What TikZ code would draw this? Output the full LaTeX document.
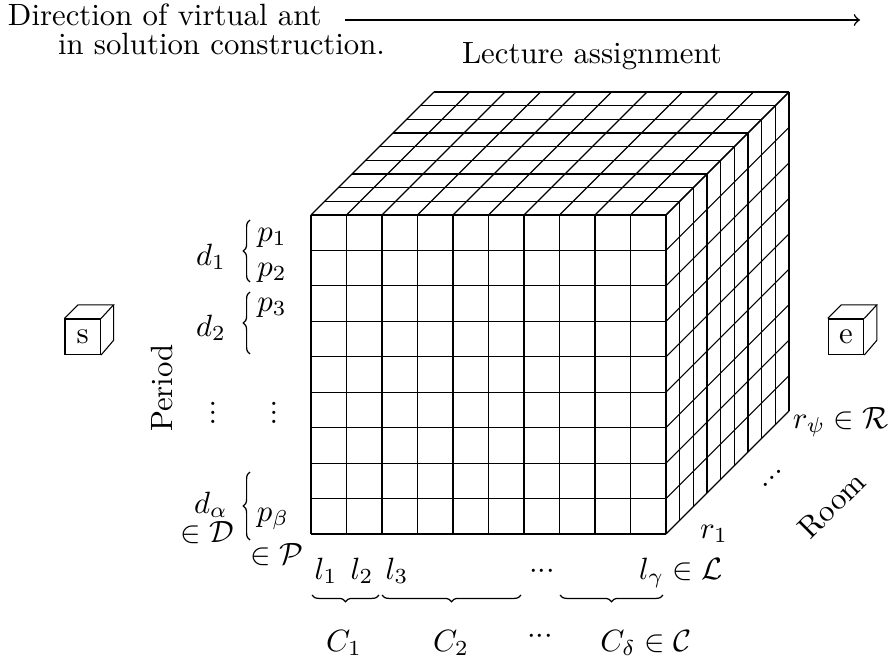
\documentclass[tikz,border=0pt]{standalone}
\usetikzlibrary{decorations.pathreplacing}
\newcommand\myvdots{\vbox{\baselineskip2.9pt\lineskiplimit0pt\kern1pt\hbox{.}\hbox{.}\hbox{.}}}
\newcommand\myidots{\hbox{.\kern-0.6pt\raise2.1pt\hbox{.}\kern-0.6pt\raise4.2pt\hbox{.}}}
\begin{document}
\begin{tikzpicture}[x=0.325pt,y=-0.325pt,
  grid/.style={line width=0.35pt, black},
  lbl/.style={inner sep=0pt, outer sep=0pt},
  brc/.style={decorate, decoration={brace, amplitude=2.2pt}, line width=0.4pt},
  cubebox/.style={draw, line width=0.35pt, minimum width=11.54pt, minimum height=11.54pt, inner sep=0pt}]
\useasboundingbox (0,0) rectangle (893,661);

% header
\node[lbl, anchor=base west] (t1) at (8,26) {Direction of virtual ant};
\node[lbl, anchor=base west] (t2) at (58,55) {in solution construction.};
\node[lbl, anchor=base west] (t3) at (462,63) {Lecture assignment};
\coordinate (aS) at (345,20);
\coordinate (aE) at (860,20);
\draw[->, line width=0.5pt] (aS) -- (aE);

% front face
\foreach \i in {0,...,10} \draw[grid] ({311+35.5*\i},215) -- ({311+35.5*\i},534);
\foreach \j in {0,...,9} \draw[grid] (311,{215+35.444*\j}) -- (666,{215+35.444*\j});
% top face
\foreach \k in {1,...,9} \draw[grid] ({311+13.667*\k},{215-13.667*\k}) -- ({666+13.667*\k},{215-13.667*\k});
\foreach \i in {0,...,10} \draw[grid] ({311+35.5*\i},215) -- ({434+35.5*\i},92);
% right face
\foreach \k in {1,...,9} \draw[grid] ({666+13.667*\k},{215-13.667*\k}) -- ({666+13.667*\k},{534-13.667*\k});
\foreach \j in {0,...,9} \draw[grid] (666,{215+35.444*\j}) -- (789,{92+35.444*\j});

% start / end cubes
\node[cubebox] (s) at (82.75,336.75) {s};
\draw[grid] (s.north west) -- ++(13.667,-13.667) -- ++(35.5,0) coordinate (sbk) -- (s.north east);
\draw[grid] (sbk) -- ++(0,35.5) -- (s.south east);
\node[cubebox] (e) at (846,336.75) {e};
\draw[grid] (e.north west) -- ++(13.667,-13.667) -- ++(35.5,0) coordinate (ebk) -- (e.north east);
\draw[grid] (ebk) -- ++(0,35.5) -- (e.south east);

% period labels
\node[lbl, rotate=90] (period) at (162,388) {Period};
\node[lbl, anchor=base] (d1) at (211,265) {$d_1$};
\node[lbl, anchor=base] (p1) at (272,241) {$p_1$};
\node[lbl, anchor=base] (p2) at (272,276) {$p_2$};
\node[lbl, anchor=base] (p3) at (272,311) {$p_3$};
\node[lbl, anchor=base] (d2) at (211,336) {$d_2$};
\node[lbl] (vd1) at (213,411) {\myvdots};
\node[lbl] (vd2) at (274,411) {\myvdots};
\node[lbl, anchor=base] (da) at (211,513) {$d_\alpha$};
\node[lbl, anchor=base] (inD) at (207,542) {$\in\mathcal{D}$};
\node[lbl, anchor=base] (pb) at (273,521) {$p_\beta$};
\node[lbl, anchor=base] (inP) at (277,564) {$\in\mathcal{P}$};
\draw[brc] (250,282) -- (250,220);
\draw[brc] (250,354) -- (250,292);
\draw[brc] (250,540) -- (250,472);

% lecture labels
\node[lbl, anchor=base] (l1) at (326,579) {$l_1$};
\node[lbl, anchor=base] (l2) at (362,579) {$l_2$};
\node[lbl, anchor=base] (l3) at (397,579) {$l_3$};
\node[lbl] (ldots) at (542,572) {${\cdot}{\cdot}{\cdot}$};
\node[lbl, anchor=base] (lg) at (681,579) {$l_\gamma\in\mathcal{L}$};
\draw[brc] (379,595) -- (312,595);
\draw[brc] (521,595) -- (382,595);
\draw[brc] (663,595) -- (560,595);
\node[lbl, anchor=base] (C1) at (344,651) {$C_1$};
\node[lbl, anchor=base] (C2) at (451,651) {$C_2$};
\node[lbl] (cdots) at (540,637) {${\cdot}{\cdot}{\cdot}$};
\node[lbl, anchor=base] (Cd) at (646,651) {$C_\delta\in\mathcal{C}$};

% room labels
\node[lbl, anchor=base] (r1) at (714,538) {$r_1$};
\node[lbl, anchor=base] (rpsi) at (841,428) {$r_\psi\in\mathcal{R}$};
\node[lbl] (rdots) at (772,478) {\myidots};
\node[lbl, rotate=45] (room) at (832,505) {Room};
\end{tikzpicture}
\end{document}
